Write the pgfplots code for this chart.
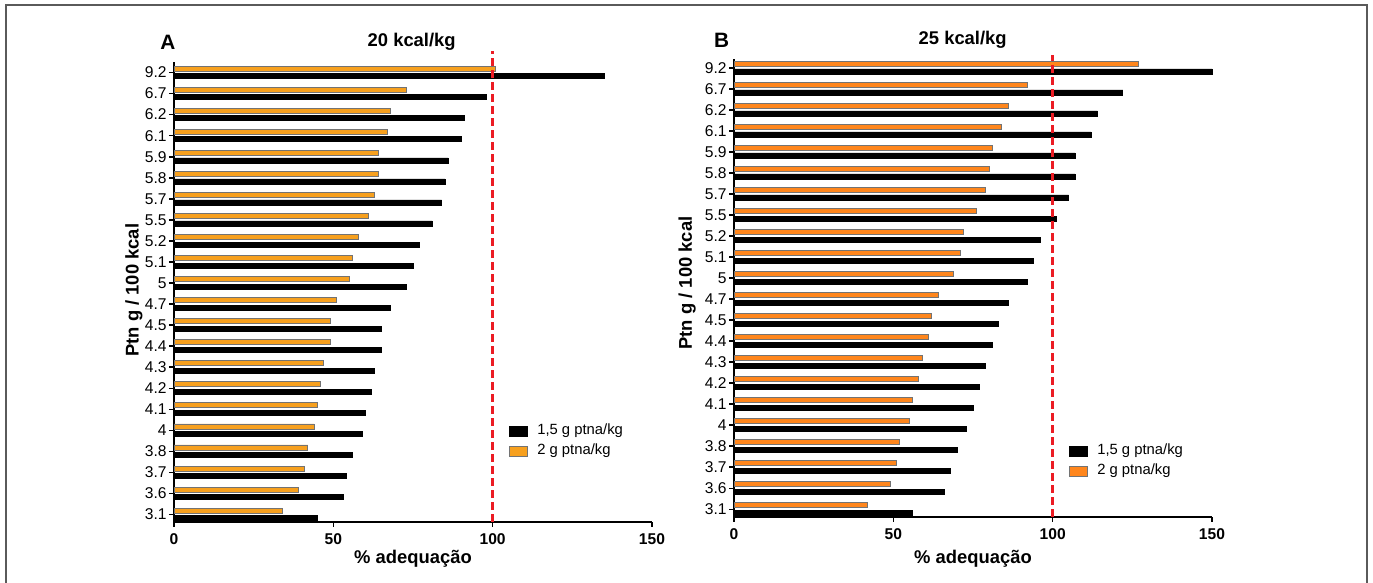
\documentclass[border=0pt]{standalone}
\usepackage{pgfplots}
\pgfplotsset{compat=1.18}
\usepackage{pgfplotstable}
\usepackage{fontspec}
\setmainfont{Liberation Sans}

\definecolor{orA}{RGB}{247,160,30}
\definecolor{orB}{RGB}{255,134,28}
\definecolor{refred}{RGB}{235,28,36}
\definecolor{framegray}{RGB}{90,90,90}

% idx = position from bottom; lab = tick label
\pgfplotstableread{
idx lab a15 a2 b15 b2
0  3.1 45  34  56  42
1  3.6 53  39  66  49
2  3.7 54  41  68  51
3  3.8 56  42  70  52
4  4   59  44  73  55
5  4.1 60  45  75  56
6  4.2 62  46  77  58
7  4.3 63  47  79  59
8  4.4 65  49  81  61
9  4.5 65  49  83  62
10 4.7 68  51  86  64
11 5   73  55  92  69
12 5.1 75  56  94  71
13 5.2 77  58  96  72
14 5.5 81  61  101 76
15 5.7 84  63  105 79
16 5.8 85  64  107 80
17 5.9 86  64  107 81
18 6.1 90  67  112 84
19 6.2 91  68  114 86
20 6.7 98  73  122 92
21 9.2 135 101 150 127
}\data

\pgfplotsset{panel/.style={
  scale only axis, width=239pt,
  xmin=0, xmax=150, ymin=-0.35,
  axis x line*=bottom, axis y line*=left,
  axis line style={line width=1pt, black},
  xtick={0,50,100,150}, ytick={0,...,21},
  yticklabels from table={\data}{lab},
  tick align=outside, major tick length=2.5pt,
  tick style={black, line width=0.8pt},
  /pgf/number format/assume math mode=true,
  xticklabel style={font=\fontsize{7.8}{9}\selectfont\bfseries},
  yticklabel style={font=\fontsize{7.8}{9}\selectfont, inner sep=1pt},
  bar width=2.5pt,
  clip=false,
  xlabel={\% adequação}, ylabel={Ptn g / 100 kcal},
  label style={font=\fontsize{9.2}{11}\selectfont\bfseries},
  legend style={draw=none, fill=none, anchor=north west, inner sep=0pt,
    font=\fontsize{7.4}{9}\selectfont, row sep=1.2pt,
    nodes={inner ysep=1pt},
    /tikz/every odd column/.append style={column sep=3pt}},
  legend cell align=left,
  legend image code/.code={\draw[##1, bar shift=0pt] (0pt,-2.5pt) rectangle (9pt,2.5pt);},
}}

\begin{document}
\begin{tikzpicture}
\useasboundingbox (0,0) rectangle (686.5pt,291.5pt);
\draw[framegray, line width=1pt] (3pt,-2pt) -- (3pt,289pt) -- (683.3pt,289pt) -- (683.3pt,-2pt);

% Panel A
\begin{axis}[panel, at={(87pt,30.5pt)}, anchor=south west, height=230pt, ymax=21.5,
  xlabel style={at={(axis description cs:0.5,-0.08)}, anchor=center},
  ylabel style={at={(axis description cs:-0.084,0.504)}, anchor=center, rotate=0},
  legend style={at={(axis description cs:0.699,0.218)}}]
\addplot[xbar, bar shift=-1.8pt, fill=black, draw=black, line width=0.3pt]
  table[x=a15, y=idx] {\data};
\addlegendentry{1,5 g ptna/kg}
\addplot[xbar, bar shift=2pt, fill=orA, draw=black!55, line width=0.4pt]
  table[x=a2, y=idx] {\data};
\addlegendentry{2 g ptna/kg}
\addplot[forget plot, sharp plot, refred, line width=1.2pt, dash pattern=on 3.8pt off 2.2pt]
  coordinates {(100,-0.35) (100,22)};
\end{axis}

% Panel B
\begin{axis}[panel, at={(367pt,33.15pt)}, anchor=south west, height=228.7pt, ymax=21.4,
  xlabel style={at={(axis description cs:0.5,-0.092)}, anchor=center},
  ylabel style={at={(axis description cs:-0.098,0.511)}, anchor=center, rotate=0},
  legend style={at={(axis description cs:0.699,0.164)}}]
\addplot[xbar, bar shift=-1.8pt, fill=black, draw=black, line width=0.3pt]
  table[x=b15, y=idx] {\data};
\addlegendentry{1,5 g ptna/kg}
\addplot[xbar, bar shift=2pt, fill=orB, draw=black!55, line width=0.4pt]
  table[x=b2, y=idx] {\data};
\addlegendentry{2 g ptna/kg}
\addplot[forget plot, sharp plot, refred, line width=1.2pt, dash pattern=on 3.8pt off 2.2pt]
  coordinates {(100,-0.35) (100,21.6)};
\end{axis}

\node[font=\fontsize{10.4}{12}\selectfont\bfseries] at (84pt,270.5pt) {A};
\node[font=\fontsize{9.2}{11}\selectfont\bfseries] at (205.85pt,270.65pt) {20 kcal/kg};
\node[font=\fontsize{10.4}{12}\selectfont\bfseries] at (360.85pt,271.5pt) {B};
\node[font=\fontsize{9.2}{11}\selectfont\bfseries] at (481.35pt,271.5pt) {25 kcal/kg};
\end{tikzpicture}
\end{document}
